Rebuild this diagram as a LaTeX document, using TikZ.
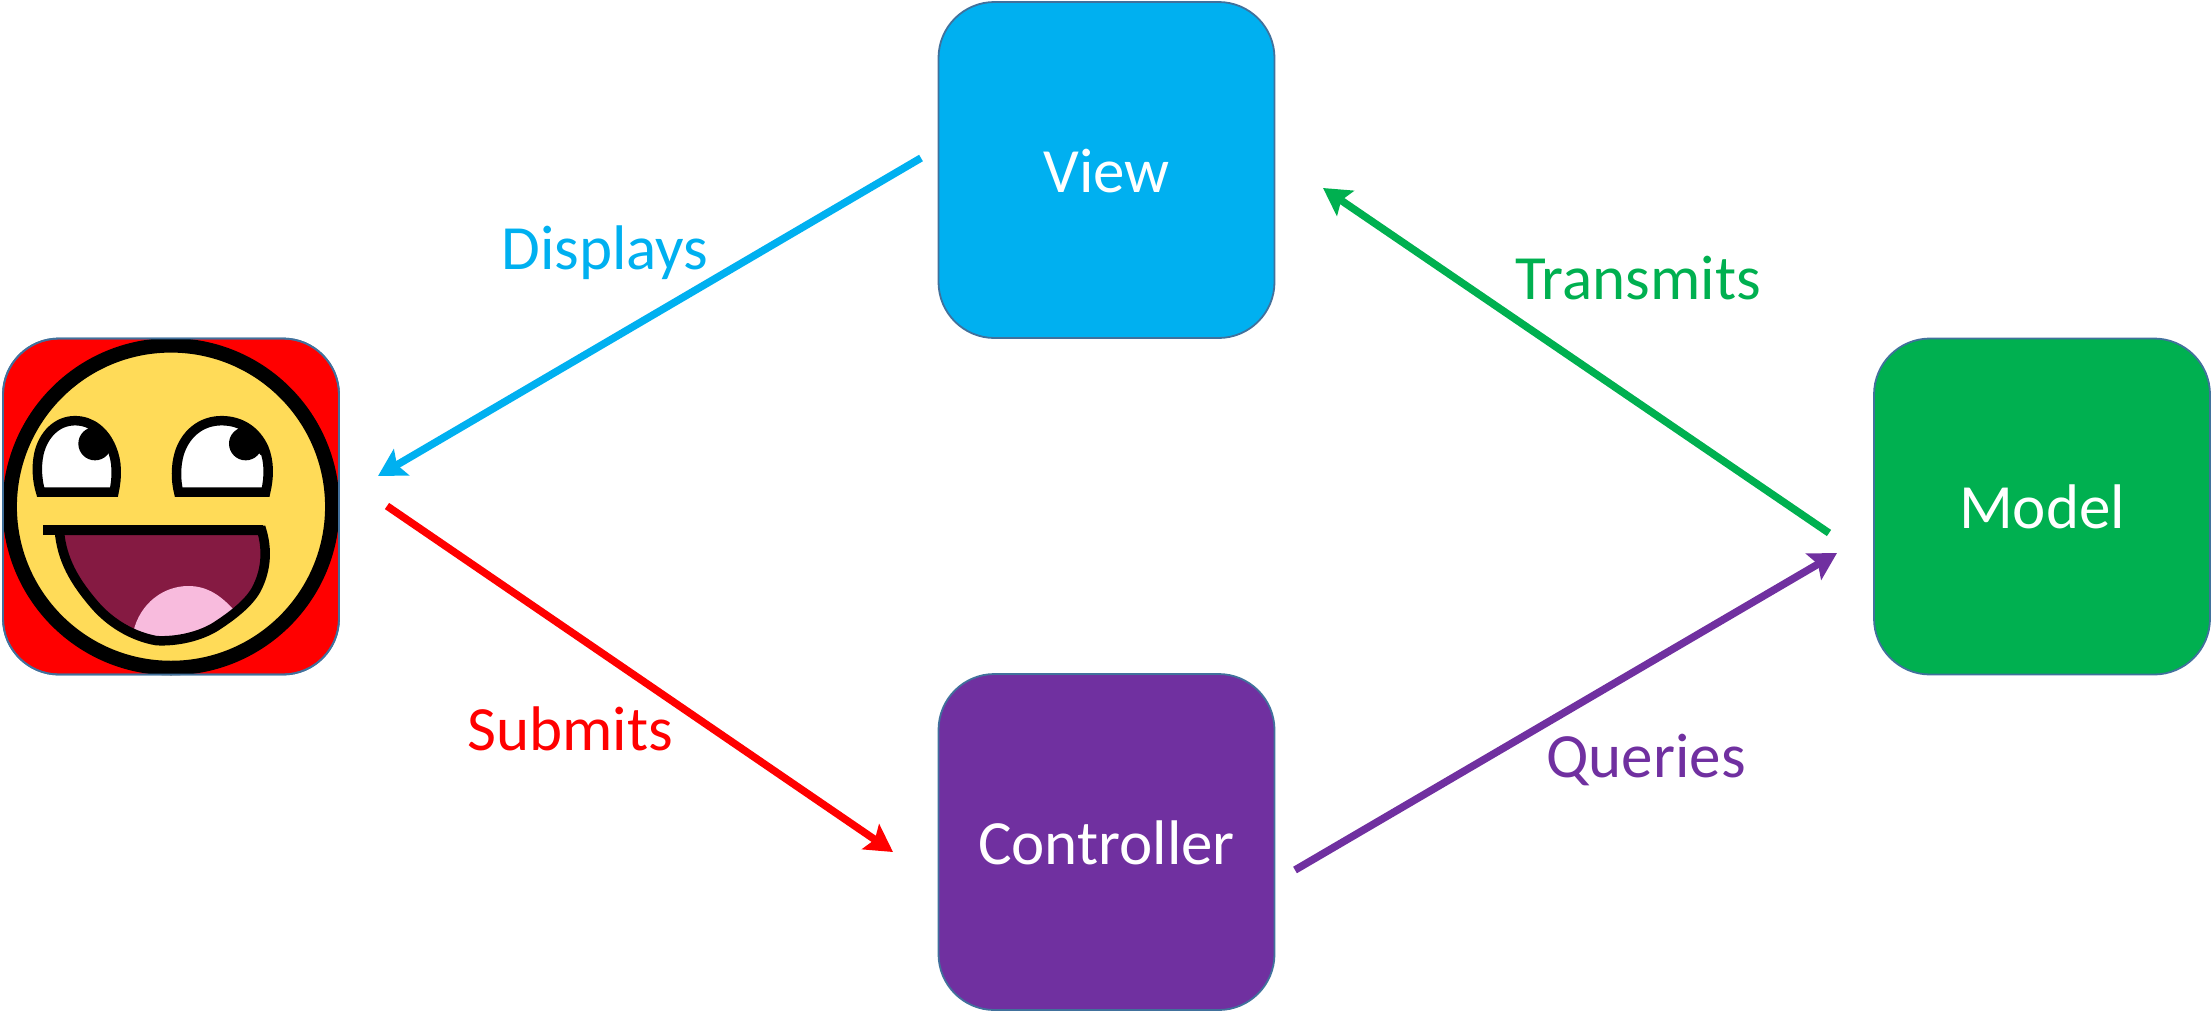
\documentclass[tikz,border=0pt]{standalone}
\usepackage{fontspec}
\setmainfont{Carlito}
\usetikzlibrary{arrows.meta}
\definecolor{cView}{HTML}{00B0F0}
\definecolor{cModel}{HTML}{00B050}
\definecolor{cCtrl}{HTML}{7030A0}
\definecolor{cEdge}{HTML}{41719C}
\definecolor{cFace}{HTML}{FFDB58}
\definecolor{cMouth}{HTML}{851A42}
\definecolor{cTongue}{HTML}{F8BBDD}
\tikzset{
  boxnode/.style={draw=cEdge,line width=1.8pt,rounded corners=56pt,minimum width=336pt,minimum height=336pt,inner sep=0pt,text=white,font=\fontsize{63}{65}\selectfont,text height=44pt,text depth=0pt,align=center},
  flow/.style={line width=7.5pt,-{Stealth[length=27pt,width=30pt,inset=5pt]}},
  flowlabel/.style={anchor=base,inner sep=0pt,font=\fontsize{63}{65}\selectfont},
  ink/.style={draw=black,line cap=butt,line join=miter,line width=9.5pt}
}
\newcommand{\lefteye}{(122,516) -- (342,516) .. controls (352,470) and (352,425) .. (335,385) .. controls (315,335) and (275,302) .. (225,302) .. controls (170,302) and (130,345) .. (117,400) .. controls (108,440) and (112,485) .. (122,516) -- cycle}
\newcommand{\righteye}{(536,516) -- (797,516) .. controls (808,470) and (808,425) .. (792,385) .. controls (770,335) and (725,302) .. (665,302) .. controls (600,302) and (555,345) .. (538,400) .. controls (526,440) and (528,485) .. (536,516) -- cycle}
\newcommand{\mouthpath}{(178,631) -- (785,631) .. controls (800,680) and (803,745) .. (768,810) .. controls (745,850) and (700,885) .. (650,918) .. controls (600,950) and (530,965) .. (470,962) .. controls (400,950) and (330,910) .. (280,850) .. controls (225,785) and (185,720) .. (178,631) -- cycle}
\begin{document}
\begin{tikzpicture}[x=1pt,y=-1pt]
\useasboundingbox (0,0) rectangle (2211,1013);
\node[boxnode,fill=cView] (view) at (1106.5,170) {View};
\node[boxnode,fill=cModel] (model) at (2042,506.5) {Model};
\node[boxnode,fill=cCtrl] (controller) at (1106.5,842) {Controller};
\node[boxnode,fill=red] (user) at (171,506.5) {};
\begin{scope}[shift={(0,320)},x=0.33333pt,y=-0.33333pt]
  \fill[cFace,draw=black,line width=14.5pt] (513,560) circle [radius=484];
  % left eye
  \begin{scope}
    \clip \lefteye;
    \fill[white] (0,200) rectangle (500,600);
    \fill[black] (285,371) circle [radius=50];
    \fill[black] (262,322) -- (332,405) -- (380,340) -- (300,280) -- cycle;
  \end{scope}
  \draw[ink] \lefteye;
  % right eye
  \begin{scope}
    \clip \righteye;
    \fill[white] (450,200) rectangle (900,600);
    \fill[black] (737,371) circle [radius=50];
    \fill[black] (712,322) -- (782,405) -- (830,340) -- (750,280) -- cycle;
  \end{scope}
  \draw[ink] \righteye;
  % mouth
  \begin{scope}
    \clip \mouthpath;
    \fill[cMouth] (100,600) rectangle (850,1000);
    \fill[cTongue] (400,1000) -- (400,935) .. controls (420,850) and (490,798) .. (565,798) .. controls (625,798) and (665,830) .. (702,870) -- (760,1000) -- cycle;
  \end{scope}
  \draw[ink] \mouthpath;
  \fill[black] (130,615) rectangle (790,645);
  \fill[black] (130,615) rectangle (178,640);
\end{scope}
\node[draw=cEdge,line width=1.8pt,rounded corners=56pt,minimum width=336pt,minimum height=336pt,inner sep=0pt] (userframe) at (171,506.5) {};
\coordinate (dA) at (921,158);
\coordinate (dB) at (378,476);
\coordinate (sA) at (387,506);
\coordinate (sB) at (893,852);
\coordinate (qA) at (1295,870);
\coordinate (qB) at (1837,553);
\coordinate (tA) at (1829,533);
\coordinate (tB) at (1323,188);
\draw[flow,cView] (dA) -- (dB);
\draw[flow,red] (sA) -- (sB);
\draw[flow,cCtrl] (qA) -- (qB);
\draw[flow,cModel] (tA) -- (tB);
\node[flowlabel,text=cView] (displays) at (605,269) {Displays};
\node[flowlabel,text=red] (submits) at (570,750) {Submits};
\node[flowlabel,text=cCtrl] (queries) at (1646,777) {Queries};
\node[flowlabel,text=cModel] (transmits) at (1638,299) {Transmits};
\end{tikzpicture}
\end{document}
